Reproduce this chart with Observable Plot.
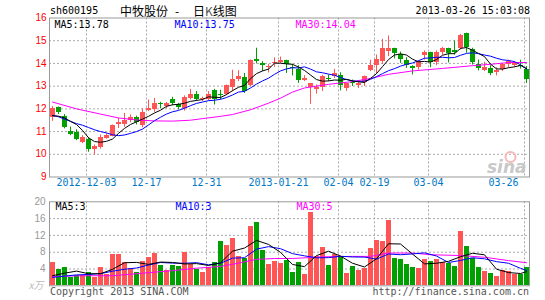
<!DOCTYPE html>
<html><head><meta charset="utf-8">
<script src="https://cdn.jsdelivr.net/npm/d3@7"></script>
<script src="https://cdn.jsdelivr.net/npm/@observablehq/plot@0.6"></script>
<style>
body{margin:0;background:#fff;}
#wrap{position:relative;width:545px;height:300px;overflow:hidden;background:#fff;}
.t{position:absolute;font-family:"DejaVu Sans Mono",monospace;font-size:10px;line-height:12px;white-space:nowrap;z-index:2;}
.cjk{font-family:'Noto Sans CJK SC';font-size:12px;line-height:16px;color:#000;top:3px;}
#p1,#p2{position:absolute;left:0;z-index:1;}
</style></head><body>
<div id="wrap">
 <div id="p1" style="top:0"></div>
 <div id="p2" style="top:196px"></div>
 <div class="t" style="left:50px;top:5px;color:#000">sh600195</div>
 <div class="t cjk" style="left:120px">中牧股份</div>
 <div class="t cjk" style="left:175px">-</div>
 <div class="t cjk" style="left:193px">日<span style="color:#555">K</span>线图</div>
 <div class="t" style="right:15px;top:5px;color:#000">2013-03-26 15:03:08</div>
 <div class="t" style="left:50px;top:286px;color:#555">Copyright 2013 SINA.COM</div>
 <div class="t" style="right:16px;top:286px;color:#555">http://finance.sina.com.cn</div>
</div>
<script>
// ---------- data ----------
const dateLabels = ["2012-12-03","12-17","12-31","2013-01-21","02-04","02-19","03-04","03-26"];
const dateIdx = [6,16,26,38,48,54,63,79];
const priceTicks = [9,10,11,12,13,14,15,16];
const volTicks = [4,8,12,16,20];

const open = [11.6,12.05,11.67,11.02,10.97,10.53,10.67,10.2,10.32,10.7,
 10.8,11.32,11.29,11.5,11.63,11.25,11.93,11.98,12.24,12.11,
 12.39,12.2,12.02,12.45,12.65,12.4,12.43,12.82,12.65,12.63,
 12.93,13.28,13.37,13.02,14.18,14.0,13.82,13.98,14.06,14.14,
 13.83,13.75,13.26,12.95,12.87,12.93,13.35,13.42,13.48,12.9,
 13.15,13.02,13.17,13.7,13.9,14.08,14.52,14.66,14.4,14.14,
 13.87,13.83,14.34,14.49,14.02,14.49,14.67,14.58,14.67,15.33,
 14.61,13.97,13.71,13.78,13.59,13.75,13.96,13.9,13.93,13.75];
const close = [12.0,11.82,11.2,10.88,10.63,10.75,10.19,10.33,10.75,10.82,
 11.27,11.41,11.47,11.6,11.4,11.85,12.01,12.24,12.2,12.22,
 12.24,12.08,12.48,12.65,12.39,12.47,12.64,12.4,12.61,13.02,
 13.3,13.43,12.78,14.13,14.1,13.89,13.86,14.06,14.12,13.97,
 13.77,13.27,13.34,13.12,12.93,13.43,13.31,13.56,13.05,13.12,
 13.11,13.11,13.42,13.92,14.18,14.66,14.66,14.42,14.18,13.93,
 13.76,14.08,14.49,14.05,14.49,14.67,14.45,14.48,15.22,14.7,
 14.03,13.76,13.81,13.54,13.68,13.96,14.07,13.99,13.85,13.31];
const high = [12.1,12.08,11.75,11.2,11.08,10.82,10.73,10.41,10.85,10.9,
 11.29,11.58,11.8,11.73,11.68,12.0,12.39,12.46,12.29,12.28,
 12.51,12.24,12.57,12.86,12.76,12.52,12.76,12.86,12.82,13.05,
 13.7,13.68,13.56,14.15,14.67,14.08,13.96,14.25,14.28,14.14,
 13.96,13.9,13.46,13.12,13.05,13.48,13.49,13.74,13.59,13.12,
 13.27,13.2,13.45,14.14,14.37,15.06,15.21,14.67,14.5,14.25,
 13.9,14.11,14.55,14.49,14.55,14.71,14.67,14.99,15.28,15.33,
 14.67,14.15,14.05,13.9,13.81,13.99,14.14,14.08,14.14,13.86];
const low = [11.45,11.75,11.12,10.82,10.6,10.47,10.09,9.97,10.23,10.66,
 10.77,11.14,11.19,11.38,11.29,11.17,11.88,11.85,12.0,12.0,
 12.14,11.95,11.9,12.39,12.35,12.32,12.35,12.17,12.39,12.58,
 12.76,13.2,12.68,12.98,13.98,13.64,13.58,13.83,13.99,13.56,
 13.45,13.12,13.2,12.2,12.65,12.76,13.2,13.34,12.79,12.77,
 12.98,12.9,12.98,13.64,13.52,13.96,14.3,14.2,14.0,13.78,
 13.49,13.71,14.15,13.81,13.9,14.37,14.02,14.37,14.59,14.45,
 13.93,13.67,13.64,13.46,13.45,13.64,13.81,13.81,13.75,13.12];
const volume = [5.56,3.9,4.37,2.0,2.4,2.4,3.17,2.0,4.37,2.6,
 7.46,7.46,5.56,4.2,3.17,5.8,6.75,7.7,4.84,3.65,
 4.84,4.7,8.0,5.0,3.85,3.17,4.25,5.6,10.5,9.6,
 11.27,7.0,6.6,14.1,15.1,8.4,5.1,5.8,5.4,5.95,
 3.17,5.56,2.7,17.5,7.0,9.1,4.84,7.46,7.0,2.94,
 4.6,3.65,4.2,8.9,10.8,10.56,15.6,6.5,6.27,5.08,
 4.37,4.13,6.27,5.8,6.3,5.6,5.2,4.5,13.0,9.4,
 6.6,4.4,3.5,3.0,2.3,3.65,3.3,2.6,2.8,4.4];

const ma5 = [11.70,11.68,11.60,11.45,11.31,11.05,10.73,10.56,10.53,10.57,
 10.67,10.92,11.14,11.31,11.43,11.55,11.67,11.82,11.94,12.11,
 12.18,12.20,12.25,12.33,12.37,12.41,12.53,12.51,12.50,12.63,
 12.80,12.95,13.03,13.33,13.55,13.67,13.75,14.01,14.01,13.98,
 13.96,13.84,13.69,13.49,13.29,13.22,13.23,13.27,13.26,13.30,
 13.23,13.19,13.16,13.34,13.55,13.86,14.17,14.37,14.42,14.37,
 14.19,14.07,14.09,14.06,14.17,14.36,14.43,14.43,14.66,14.70,
 14.58,14.44,14.30,13.97,13.76,13.75,13.81,13.85,13.91,13.78];
const ma10 = [11.71,11.65,11.55,11.45,11.35,11.28,11.18,11.08,11.00,10.94,
 10.86,10.82,10.85,10.92,11.00,11.11,11.29,11.48,11.63,11.77,
 11.87,11.93,12.03,12.14,12.24,12.30,12.36,12.38,12.42,12.50,
 12.61,12.74,12.77,12.92,13.09,13.23,13.35,13.52,13.67,13.76,
 13.81,13.80,13.85,13.75,13.63,13.59,13.53,13.48,13.38,13.29,
 13.23,13.21,13.22,13.30,13.42,13.55,13.68,13.77,13.88,13.96,
 14.02,14.12,14.23,14.24,14.27,14.27,14.25,14.26,14.36,14.44,
 14.47,14.43,14.37,14.32,14.23,14.16,14.13,14.08,13.94,13.75];
const ma30Idx = [0,4,8,11,14,17,20,23,25,28,30,33,36,38,40,42,46,50,53,56,60,65,70,73,76,79];
const ma30 = [12.3,12.0,11.77,11.6,11.51,11.47,11.46,11.5,11.57,11.67,11.75,11.96,12.25,12.47,12.74,12.92,13.08,13.2,13.34,13.52,13.67,13.78,13.9,13.96,14.04,14.04];

const vmaIdx = [0,2,4,6,8,10,12,14,16,18,20,22,24,26,28,30,32,34,36,38,40,42,44,46,48,50,52,54,56,58,60,62,64,66,68,70,72,74,76,78,79];
const vma5 = [2.4,3.0,3.5,2.87,2.87,3.92,5.49,5.57,5.1,5.65,5.56,5.2,5.28,4.85,5.47,8.24,8.99,10.81,9.86,7.96,5.08,4.56,7.19,8.23,7.08,5.37,4.48,6.43,10.01,9.95,7.56,5.22,5.37,5.83,6.92,7.74,7.38,3.96,3.15,2.93,3.35];
const vma10 = [2.0,2.3,2.6,2.7,2.9,3.47,3.94,4.24,4.94,5.55,5.4,5.37,5.51,5.0,5.36,6.59,6.68,8.72,9.33,8.84,7.66,7.13,6.66,6.7,7.03,6.87,6.83,6.35,7.57,7.4,7.59,7.85,7.09,5.55,6.03,6.68,6.43,5.75,5.37,4.16,3.66];
const vma30Idx = [0,5,10,15,20,24,28,31,34,37,40,45,50,53,56,60,63,68,72,76,79];
const vma30 = [2.2,2.4,2.4,3.0,3.6,4.2,4.6,5.4,6.3,6.5,6.5,6.9,7.0,7.0,7.8,7.8,7.4,7.2,6.8,6.0,5.5];

const priceMaLabels = ["MA5:13.78","MA10:13.75","MA30:14.04"];
const volMaLabels = ["MA5:3","MA10:3","MA30:5"];

// ---------- build ----------
const RED = "#ff5555", GREEN = "#00a000", GRID = "#aaaaaa";
const candles = close.map((c, i) => ({i, o: open[i], h: high[i], l: low[i], c, v: volume[i], up: c >= open[i]}));
const col = d => d.up ? RED : GREEN;
const xScale = {type: "linear", domain: [-1/6, 479/6], axis: null};
const mono = "DejaVu Sans Mono";
const maColors = ["#000000", "#0000ff", "#ff00ff"];
const maDx = [5, 125, 246];

const lineOf = (vals, idxArr, color) => Plot.line(vals.map((v, k) => ({x: (idxArr ? idxArr[k] : k) + 1/3, y: v})), {x: "x", y: "y", stroke: color, strokeWidth: 1});

const main = Plot.plot({
  width: 545, height: 196,
  marginLeft: 49, marginRight: 16, marginTop: 17.5, marginBottom: 19.5,
  x: xScale,
  y: {domain: [9, 16], axis: null},
  style: {fontFamily: mono, fontSize: "10px", background: "transparent", overflow: "visible"},
  marks: [
    Plot.ruleY(priceTicks.filter(t => t > 9 && t < 16), {y: d => d, stroke: GRID, strokeDasharray: "2,2"}),
    Plot.ruleX(dateIdx, {x: d => d, stroke: GRID, strokeDasharray: "2,2"}),
    Plot.frame({stroke: "#999"}),
    Plot.ruleX(candles, {x: d => d.i + 1/3, y1: "l", y2: "h", stroke: col}),
    Plot.rect(candles, {x1: "i", x2: d => d.i + 5/6, y1: d => Math.min(d.o, d.c), y2: d => Math.max(d.o, d.c), fill: col, dx: -0.5, shapeRendering: "crispEdges"}),
    lineOf(ma30, ma30Idx, maColors[2]),
    lineOf(ma10, null, maColors[1]),
    lineOf(ma5, null, maColors[0]),
    Plot.text(priceTicks, {y: d => d, text: d => String(d), frameAnchor: "left", dx: -3, textAnchor: "end", fill: "#ff0000", fontFamily: "Liberation Sans", fontSize: 10}),
    Plot.text(dateIdx.slice(0, -1), {x: d => d, text: (d, k) => dateLabels[k], frameAnchor: "bottom", dy: 9, fill: "#0078c8"}),
    Plot.text(dateIdx.slice(-1), {x: d => d, text: () => dateLabels[dateLabels.length - 1], frameAnchor: "bottom", dy: 9, dx: -6, textAnchor: "end", fill: "#0078c8"}),
    ...priceMaLabels.map((s, k) => Plot.text([s], {text: d => d, frameAnchor: "top-left", dx: maDx[k], dy: 7, textAnchor: "start", lineAnchor: "middle", fill: maColors[k]})),
    Plot.text(["sina"], {text: d => d, frameAnchor: "bottom-right", dx: -3, dy: -4, fill: "#c8c8c8", fontSize: 17, fontWeight: "bold", fontStyle: "italic", fontFamily: "DejaVu Sans"}),
    Plot.dot([0], {frameAnchor: "bottom-right", dx: -19, dy: -20, r: 5, stroke: "#f6b8b8", strokeWidth: 2, fill: "none"})
  ]
});
document.getElementById("p1").appendChild(main);

const vol = Plot.plot({
  width: 545, height: 104,
  marginLeft: 49, marginRight: 16, marginTop: 5.3, marginBottom: 14.7,
  x: xScale,
  y: {domain: [0, 20], axis: null},
  style: {fontFamily: mono, fontSize: "10px", background: "transparent", overflow: "visible"},
  marks: [
    Plot.ruleY(volTicks.filter(t => t < 20), {y: d => d, stroke: GRID, strokeDasharray: "2,2"}),
    Plot.ruleX(dateIdx, {x: d => d, stroke: GRID, strokeDasharray: "2,2"}),
    Plot.rect(candles, {x1: "i", x2: d => d.i + 5/6, y1: 0, y2: "v", fill: col, dx: -0.5, shapeRendering: "crispEdges"}),
    Plot.frame({stroke: "#999"}),
    lineOf(vma30, vma30Idx, maColors[2]),
    lineOf(vma10, vmaIdx, maColors[1]),
    lineOf(vma5, vmaIdx, maColors[0]),
    Plot.text(volTicks, {y: d => d, text: d => String(d), frameAnchor: "left", dx: -4, textAnchor: "end", fill: "#999", fontFamily: "Liberation Sans", fontSize: 10}),
    Plot.text(["x万"], {y: () => 0, text: d => d, frameAnchor: "left", dx: -6, textAnchor: "end", fill: "#bbb", fontStyle: "italic", fontFamily: "Noto Sans CJK SC", fontSize: 10}),
    ...volMaLabels.map((s, k) => Plot.text([s], {text: d => d, frameAnchor: "top-left", dx: maDx[k] + 1, dy: 5, textAnchor: "start", lineAnchor: "middle", fill: maColors[k]}))
  ]
});
document.getElementById("p2").appendChild(vol);
</script>
</body></html>
